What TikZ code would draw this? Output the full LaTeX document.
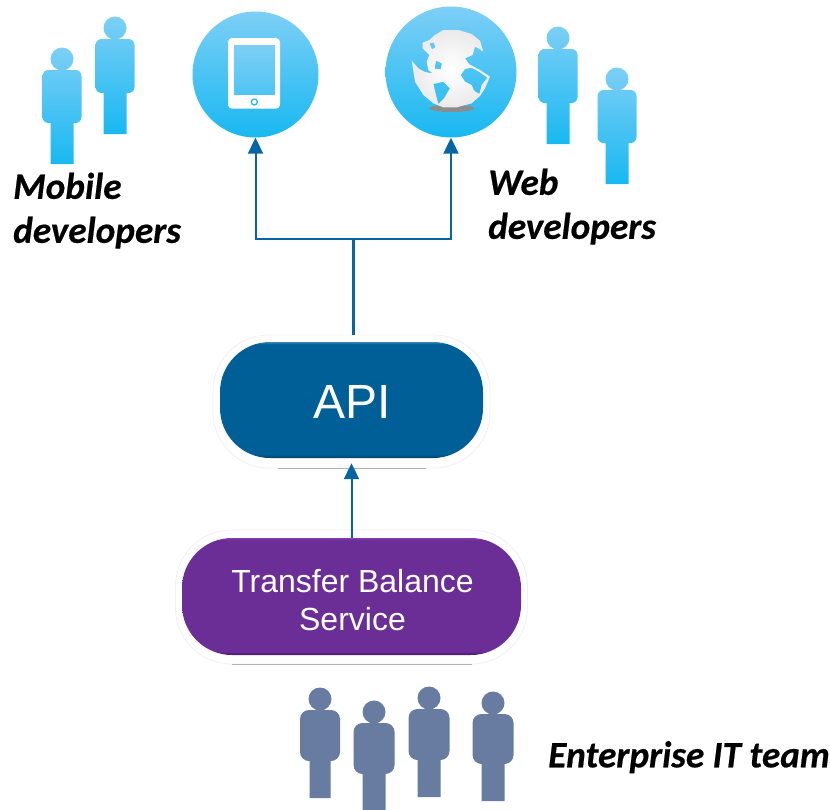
\documentclass[tikz,border=0pt]{standalone}
\usepackage{fontspec}
\newfontfamily\labelfont{Carlito}[BoldItalicFeatures={FakeBold=0.5}]
\newfontfamily\pillfont{Liberation Sans}
\usetikzlibrary{arrows.meta, calc}
\definecolor{skytop}{RGB}{125, 207, 246}
\definecolor{skylow}{RGB}{24, 184, 241}
\definecolor{teamblue}{RGB}{103, 124, 160}
\definecolor{linkblue}{RGB}{6, 102, 164}
\definecolor{apiblue}{RGB}{0, 95, 150}
\definecolor{apitop}{RGB}{50, 135, 180}
\definecolor{apilow}{RGB}{2, 62, 100}
\definecolor{svcpurple}{RGB}{107, 45, 150}
\definecolor{svctop}{RGB}{130, 60, 172}
\definecolor{svclow}{RGB}{66, 22, 98}
\pgfdeclareverticalshading{apibevel}{100bp}{color(0bp)=(apilow); color(25bp)=(apilow); color(26.5bp)=(apiblue); color(74bp)=(apiblue); color(75bp)=(apitop); color(100bp)=(apitop)}
\pgfdeclareverticalshading{svcbevel}{100bp}{color(0bp)=(svclow); color(25bp)=(svclow); color(26.5bp)=(svcpurple); color(74bp)=(svcpurple); color(75bp)=(svctop); color(100bp)=(svctop)}
\tikzset{
  pics/person/.style args={#1/#2/#3/#4/#5}{code={
    \path[pic actions] (0,0) circle (11.5) [rounded corners=#5pt] (-#1,11) rectangle (#1,#2) [sharp corners] (-#4,#2-4) rectangle (#4,#3);
  }},
  skyman/.style={top color=skytop, bottom color=skylow},
  teamman/.style={fill=teamblue},
  bubble/.style={circle, inner sep=0pt, top color=skytop, bottom color=skylow},
  halo/.style={rounded corners=56pt, draw=black!6, line width=0.8pt, inner sep=0pt},
  haloline/.style={draw=black!30, line width=0.8pt},
  pill/.style={rounded corners=50pt, inner sep=0pt},
  pilltext/.style={inner sep=0pt, text=white, align=center},
  link/.style={draw=linkblue, line width=2pt},
  linktip/.style={link, -{Triangle[width=15pt, length=16pt]}},
  devlabel/.style={anchor=north west, inner sep=0pt, align=left, font=\labelfont\bfseries\itshape\fontsize{37.2}{44}\selectfont},
}
\begin{document}
\begin{tikzpicture}[x=1pt, y=-1pt]
  \useasboundingbox (0,0) rectangle (830,809);

  % Mobile developers
  \pic[skyman] (mobileone) at (62,59) {person=19.5/64/105/11.5/6};
  \pic[skyman] (mobiletwo) at (115,28) {person=19.5/65/106/11.5/6};
  \node[devlabel] (mobilelabel) at (13,172.5) {Mobile\\developers};

  % Web developers
  \pic[skyman] (webone) at (558,38) {person=19.5/65/106/11.5/6};
  \pic[skyman] (webtwo) at (617,79) {person=19.5/64/105/11.5/6};
  \node[devlabel] (weblabel) at (488,168.5) {Web\\developers};

  % Tablet
  \node[bubble, minimum size=126pt] (tablet) at (255.5,74.5) {};
  \begin{scope}[shift={(225,35)}, scale=1/3]
    \fill[white, rounded corners=4pt] (9,9) rectangle (165,221);
    \shade[top color=skytop, bottom color=skytop!55!skylow] (27,30) rectangle (150,177);
    \draw[skylow, line width=1.2pt] (88,201) circle (9);
  \end{scope}

  % Globe
  \node[bubble, minimum size=131pt] (globe) at (451,72) {};
  \begin{scope}[shift={(400,20)}, scale=1/3]
    \fill[black!45] (155,265) ellipse (68 and 11);
    \shade[inner color=white, outer color=black!8, even odd rule]
      (68,68) -- (88,60) -- (105,45) -- (130,30) -- (175,30) -- (215,42) -- (240,62) -- (250,95) -- (235,85)
      -- (225,80) -- (218,105) -- (195,115) -- (208,133) -- (240,150) -- (270,170) -- (255,205) -- (240,228)
      -- (215,250) -- (170,262) -- (130,262) -- (100,250) -- (70,225) -- (45,185) -- (35,122) -- (55,145)
      -- (75,156) -- (98,160) -- (85,150) -- (80,125) -- (88,105) -- (68,85) -- cycle
      (88,70) -- (102,68) -- (106,82) -- (96,88) -- cycle
      (100,192) -- (130,185) -- (150,205) -- (132,235) -- (115,252) -- (108,225) -- cycle
      (182,165) -- (195,147) -- (215,143) -- (240,157) -- (262,173) -- (245,195) -- (238,222) -- (222,212)
      -- (215,195) -- (195,185) -- cycle
      (108,122) -- (126,130) -- (122,148) -- (104,146) -- cycle;
  \end{scope}

  % API
  \node[halo, minimum width=277pt, minimum height=133pt] (apihalo) at (351.5,401.5) {};
  \draw[haloline] ($(apihalo.south)+(-74,0)$) -- ($(apihalo.south)+(74,0)$);
  \node[pill, shading=apibevel, minimum width=263pt, minimum height=116pt] (apipill) at (351.5,400) {};
  \node[pilltext, font=\pillfont\fontsize{48}{48}\selectfont] (apitext) at (352,401.5) {API};

  % Transfer Balance Service
  \node[halo, minimum width=352pt, minimum height=134pt] (svchalo) at (351.5,597) {};
  \draw[haloline] ($(svchalo.south)+(-120,0)$) -- ($(svchalo.south)+(120,0)$);
  \node[pill, shading=svcbevel, minimum width=339pt, minimum height=117pt] (svcpill) at (351.5,596.5) {};
  \node[pilltext, font=\pillfont\fontsize{32}{38}\selectfont] (svctext) at (352.5,600) {Transfer Balance\\Service};

  % Connectors
  \coordinate (junction) at (353,239);
  \draw[link, line width=3pt] (junction |- apihalo.north) -- (junction);
  \draw[linktip] (junction) -| (tablet.south);
  \draw[linktip] (junction) -| (globe.south);
  \draw[linktip, shorten >=5pt] (svcpill.north) -- (apipill.south);

  % Enterprise IT team
  \pic[teamman] (teamone) at (320,699) {person=20/62/99/10.5/9};
  \pic[teamman] (teamtwo) at (374,712) {person=20.5/62/99/11.5/9};
  \pic[teamman] (teamthree) at (429,698) {person=20.5/62/99/11.5/9};
  \pic[teamman] (teamfour) at (493,703) {person=20.5/61/98/11.5/9};
  \node[devlabel] (teamlabel) at (548,741) {Enterprise IT team};
\end{tikzpicture}
\end{document}
